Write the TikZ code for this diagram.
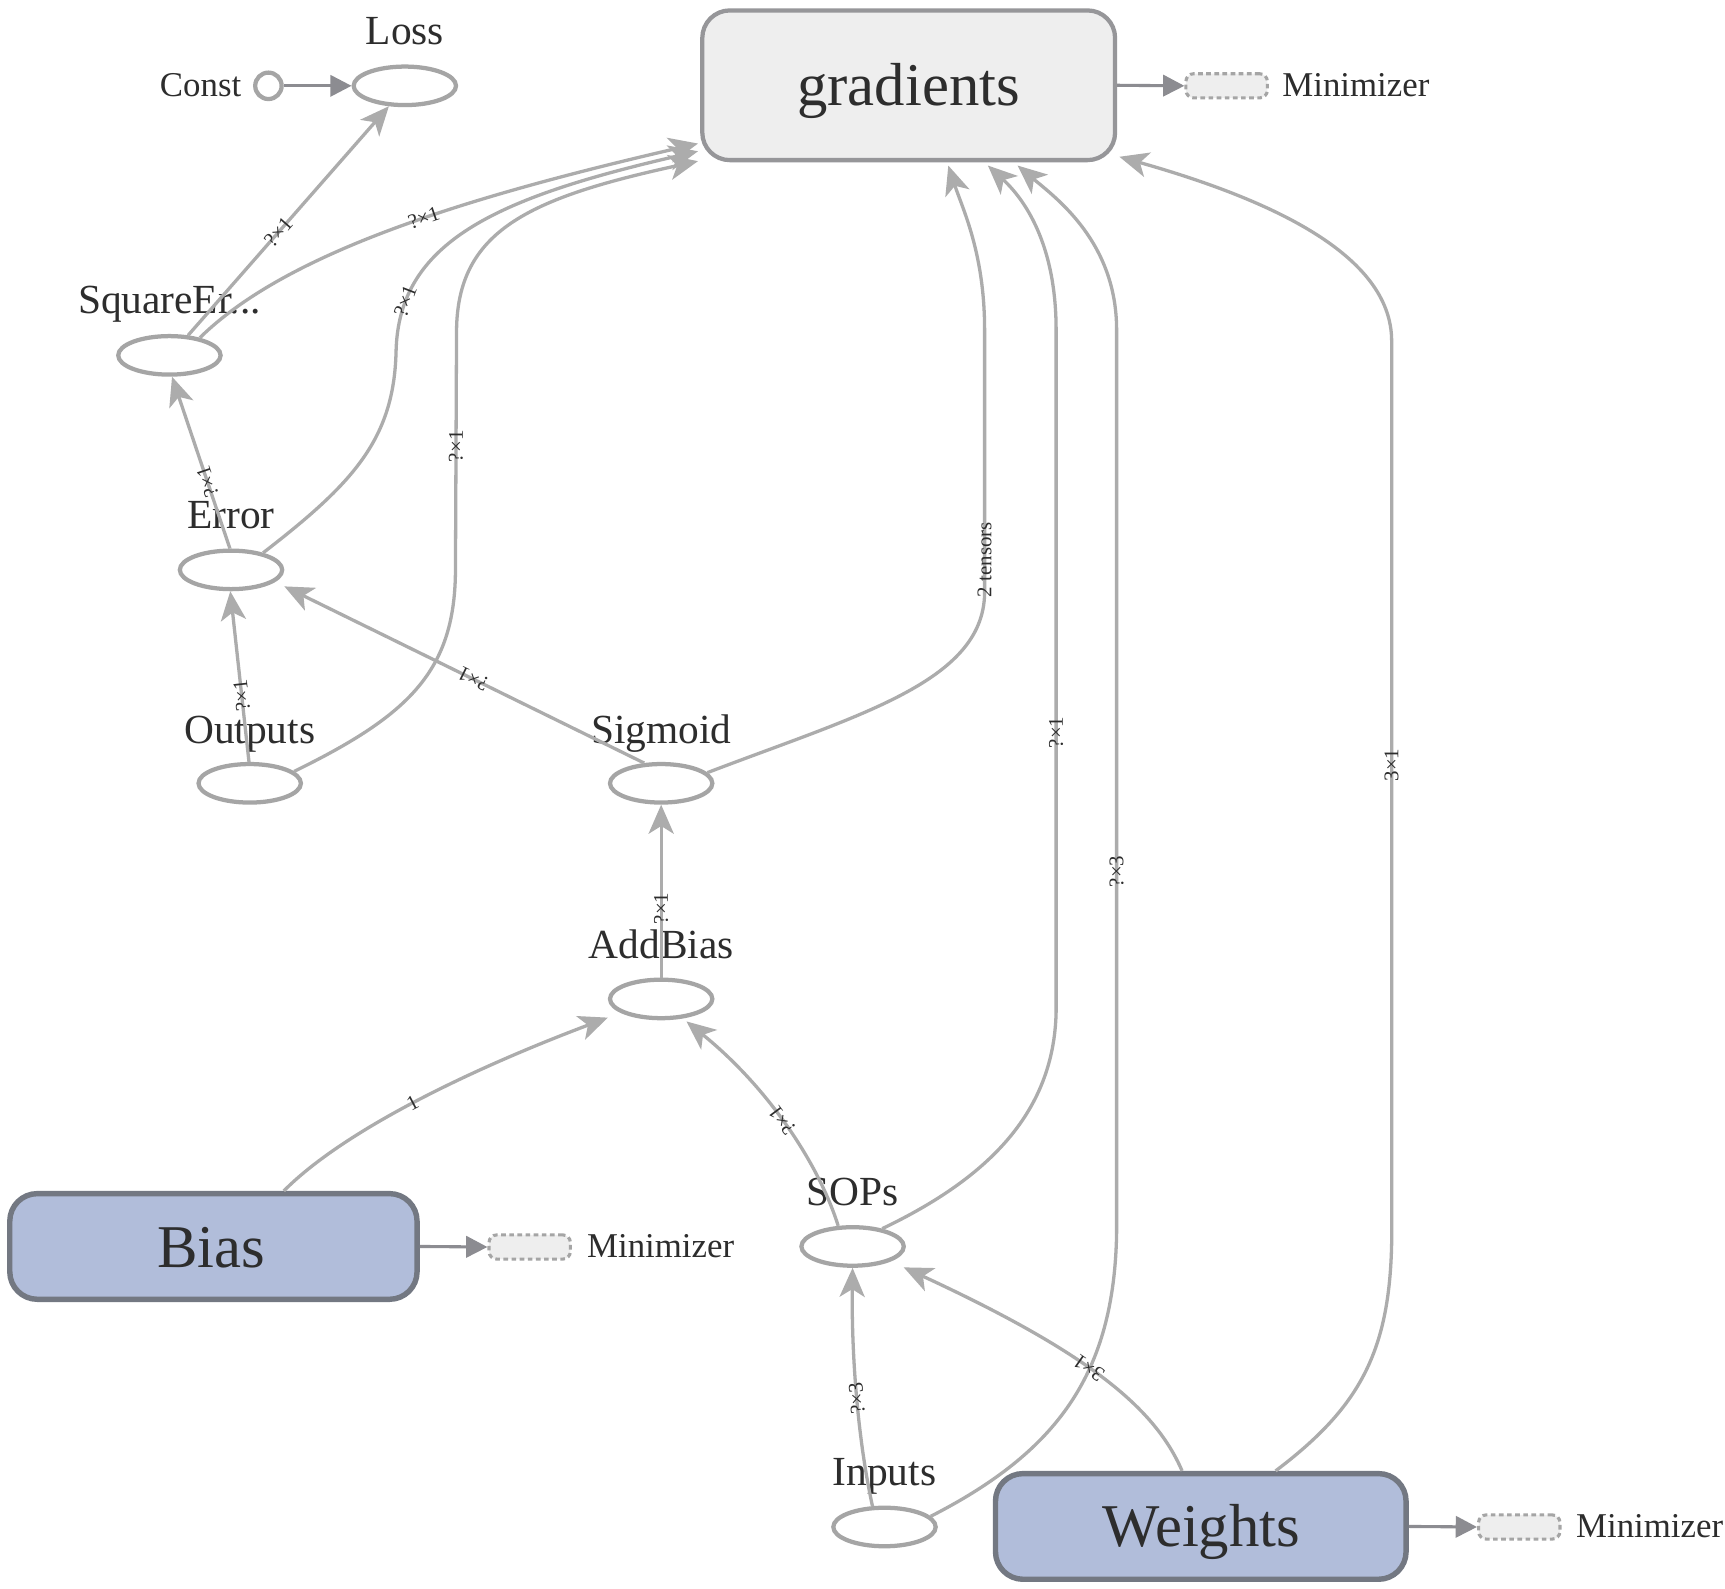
\documentclass[tikz,border=0pt]{standalone}
\usepackage{fontspec}
\setmainfont{Liberation Serif}
\usetikzlibrary{arrows.meta,shapes.geometric,calc}
\definecolor{edgec}{RGB}{172,172,172}
\definecolor{nodec}{RGB}{165,165,165}
\definecolor{txt}{RGB}{45,45,45}
\definecolor{boxfill}{RGB}{238,238,238}
\definecolor{gradc}{RGB}{150,150,153}
\definecolor{biasfill}{RGB}{177,189,218}
\definecolor{biasc}{RGB}{115,120,130}
\definecolor{arrc}{RGB}{140,140,145}
\definecolor{mboxc}{RGB}{165,165,165}
\tikzset{
  opnode/.style={ellipse, draw=nodec, line width=1.1pt, minimum width=0.93cm, minimum height=0.35cm, inner sep=0pt, fill=white},
  constnode/.style={circle, draw=nodec, line width=1.1pt, minimum size=0.24cm, inner sep=0pt, fill=white},
  lab/.style={anchor=base, text=txt, font=\fontsize{10.7}{12}\selectfont, inner sep=0pt},
  smalllab/.style={text=txt, font=\fontsize{9}{11}\selectfont, inner sep=0pt},
  biglab/.style={anchor=base, text=txt, font=\fontsize{15.7}{18}\selectfont, inner sep=0pt},
  bigbox/.style={rectangle, rounded corners=0.25cm, inner sep=0pt},
  conn/.style={draw=edgec, line width=0.85pt, -{Stealth[length=7.5pt,width=6.5pt,inset=2pt]}},
  elab/.style={font=\fontsize{5.4}{6}\selectfont, text=txt, sloped, allow upside down, inner sep=0pt},
  miniarrow/.style={draw=arrc, line width=0.8pt, -{Triangle[length=5.5pt,width=5.5pt]}},
  minibox/.style={rectangle, rounded corners=2pt, draw=mboxc, fill=boxfill, dash pattern=on 1.2pt off 0.9pt, line width=0.8pt, minimum width=0.74cm, minimum height=0.22cm, inner sep=0pt},
}
\begin{document}
\begin{tikzpicture}[x=0.01cm, y=-0.01cm]
\useasboundingbox (0,0) rectangle (1568,1444);
\fill[white] (0,0) rectangle (1568,1444);

% big boxes
\node[bigbox, draw=gradc, fill=boxfill, line width=1.1pt, minimum width=3.75cm, minimum height=1.36cm] (grad) at (826,77.5) {};
\node[biglab] (gradt) at (826,96) {gradients};
\node[bigbox, draw=biasc, fill=biasfill, line width=1.4pt, minimum width=3.70cm, minimum height=0.96cm] (bias) at (194,1133) {};
\node[biglab] (biast) at (192,1152) {Bias};
\node[bigbox, draw=biasc, fill=biasfill, line width=1.4pt, minimum width=3.73cm, minimum height=0.96cm] (wts) at (1091.5,1387.5) {};
\node[biglab] (wtst) at (1092,1406) {Weights};

% minimizers
\node[minibox] (m1) at (1115,78) {};
\node[smalllab, anchor=base west] (m1t) at (1165,88) {Minimizer};
\node[minibox] (m2) at (481.5,1133.5) {};
\node[smalllab, anchor=base west] (m2t) at (533,1143) {Minimizer};
\node[minibox] (m3) at (1381,1388) {};
\node[smalllab, anchor=base west] (m3t) at (1432,1398) {Minimizer};

% op nodes
\node[opnode] (loss) at (368,78) {};
\node[lab] (lossl) at (368,40) {Loss};
\node[constnode] (const) at (244,78) {};
\node[smalllab, anchor=base east] (constl) at (220,88) {Const};
\node[opnode] (sq) at (154,323) {};
\node[lab] (sql) at (154,285) {SquareEr...};
\node[opnode] (err) at (210,518) {};
\node[lab] (errl) at (210,480) {Error};
\node[opnode] (out) at (227,712) {};
\node[lab] (outl) at (227,676) {Outputs};
\node[opnode] (sig) at (601,712) {};
\node[lab] (sigl) at (601,676) {Sigmoid};
\node[opnode] (ab) at (601,908) {};
\node[lab] (abl) at (601,871) {AddBias};
\node[opnode] (sops) at (775,1133) {};
\node[lab] (sopsl) at (775,1096) {SOPs};
\node[opnode] (inp) at (804,1388) {};
\node[lab] (inpl) at (804,1350) {Inputs};

% minimizer arrows
\draw[miniarrow] (grad.east) -- (m1.west);
\draw[miniarrow] (bias.east) -- (m2.west);
\draw[miniarrow] (wts.east) -- (m3.west);
\draw[miniarrow] (const.east) -- (loss.west);

% edges
\draw[conn] (sq.47) -- node[elab,pos=0.45]{?×1} (loss.232);
\draw[conn] (sq.30) .. controls (260,230) and (420,180) .. node[elab,pos=0.56]{?×1} ($(grad.south west)+(-2,-17)$);
\draw[conn] (err.28) .. controls (320,440) and (358,400) .. (360,320) .. controls (362,220) and (450,180) .. node[elab,pos=0.17]{?×1} ($(grad.south west)+(-2,-10)$);
\draw[conn] (out.15) .. controls (372,650) and (413,610) .. (414,520) -- node[elab,pos=0.52]{?×1} (415,300) .. controls (416,210) and (480,180) .. ($(grad.south west)+(-2,-1)$);
\draw[conn] (sig.13) .. controls (780,650) and (893,620) .. (895,540) -- node[elab,pos=0.13]{2 tensors} (895,300) .. controls (895,230) and (875,190) .. ($(grad.south)+(36,3)$);
\draw[conn] (sops.31) .. controls (900,1070) and (958,1010) .. (960,920) -- node[elab,pos=0.41]{?×1} (960,300) .. controls (960,220) and (930,180) .. ($(grad.south)+(72,3)$);
\draw[conn] (inp.13) .. controls (960,1320) and (1013,1250) .. (1015,1120) -- node[elab,pos=0.4]{?×3} (1015,300) .. controls (1015,220) and (960,180) .. ($(grad.south)+(99,3)$);
\draw[conn] ($(wts.north)+(68,0)$) .. controls (1235,1280) and (1263,1230) .. (1265,1130) -- node[elab,pos=0.53]{3×1} (1265,310) .. controls (1265,230) and (1150,180) .. ($(grad.east)+(2,65)$);

\draw[conn] (err.93) -- node[elab,pos=0.39]{?×1} (sq.-83);
\draw[conn] (out.92) -- node[elab,pos=0.39]{?×1} (err.-92);
\draw[conn] (sig.130) -- node[elab,pos=0.475]{?×1} ($(err.east)+(0,15)$);
\draw[conn] (ab.north) -- node[elab,pos=0.4]{?×1} (sig.south);
\draw[conn] ($(bias.north)+(64,0)$) .. controls (310,1030) and (420,975) .. node[elab,pos=0.5]{1} ($(ab.west)+(0,17)$);
\draw[conn] (sops.125) .. controls (745,1060) and (700,990) .. node[elab,pos=0.53]{?×1} ($(ab.south)+(23,1)$);
\draw[conn] (inp.120) .. controls (778,1300) and (774,1220) .. node[elab,pos=0.45]{?×3} (sops.south);
\draw[conn] ($(wts.north)+(-17,0)$) .. controls (1050,1280) and (990,1230) .. node[elab,pos=0.55]{3×1} ($(sops.east)+(-2,19)$);
\end{tikzpicture}
\end{document}
